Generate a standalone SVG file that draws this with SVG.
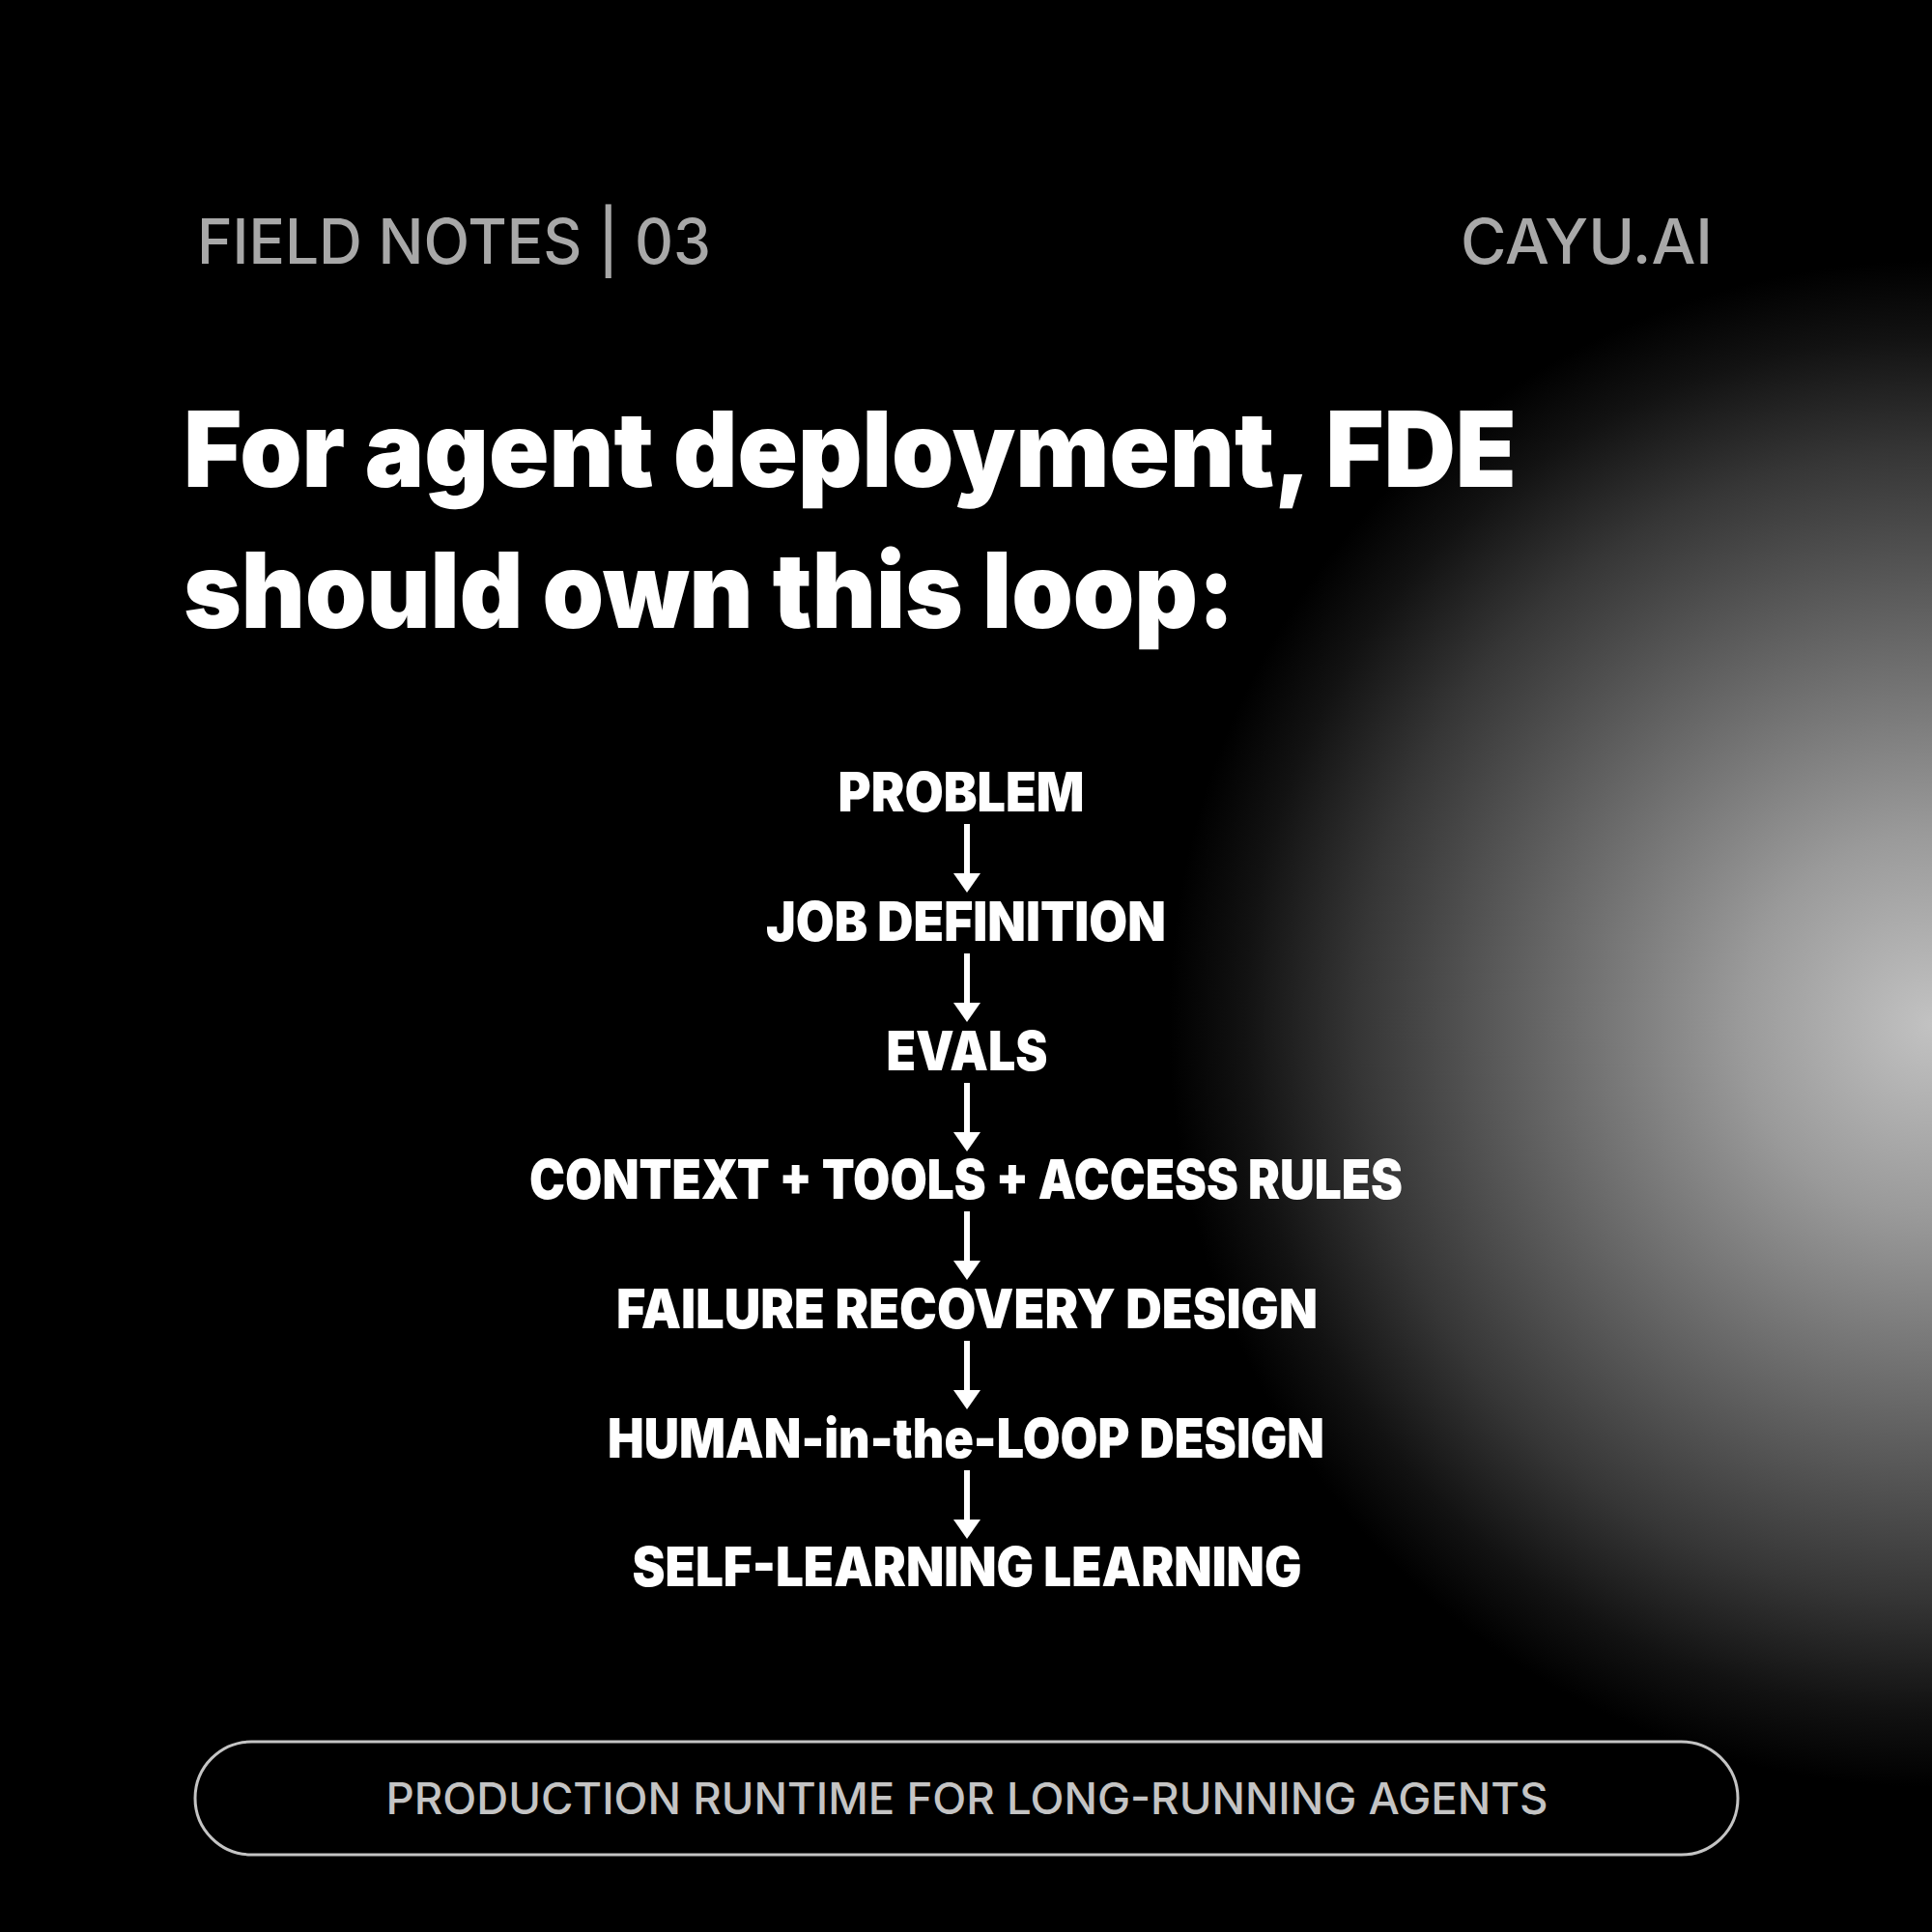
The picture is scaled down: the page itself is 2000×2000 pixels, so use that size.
<svg xmlns="http://www.w3.org/2000/svg" width="2000" height="2000" viewBox="0 0 2000 2000">
  <defs>
    <radialGradient id="glow" cx="2000" cy="1060" r="790" gradientUnits="userSpaceOnUse">
      <stop offset="0" stop-color="#c2c2c2"/>
      <stop offset="0.25" stop-color="#9a9a9a"/>
      <stop offset="0.5" stop-color="#686868"/>
      <stop offset="0.75" stop-color="#363636"/>
      <stop offset="0.9" stop-color="#121212"/>
      <stop offset="1" stop-color="#000000"/>
    </radialGradient>
    <marker id="arrowhead" markerUnits="userSpaceOnUse" markerWidth="20" markerHeight="28" refX="0" refY="14" orient="auto" viewBox="0 0 20 28">
      <path d="M0,0 L20,14 L0,28 Z" fill="#ffffff"/>
    </marker>
    <style>
      .hdr { font-family: "Inter", "Liberation Sans", sans-serif; font-weight: 500; font-size: 64px; fill: #a8a8a8; }
      .title { font-family: "Inter", "Liberation Sans", sans-serif; font-weight: 900; font-size: 108px; fill: #ffffff; }
      .step { font-family: "Inter", "Liberation Sans", sans-serif; font-weight: 900; font-size: 56px; fill: #ffffff; text-anchor: middle; }
      .conn { stroke: #ffffff; stroke-width: 6; fill: none; }
      .pilltxt { font-family: "Inter", "Liberation Sans", sans-serif; font-weight: 500; font-size: 45px; fill: #c4c4c4; text-anchor: middle; }
    </style>
  </defs>

  <rect x="0" y="0" width="2000" height="2000" fill="#000000"/>
  <rect x="0" y="0" width="2000" height="2000" fill="url(#glow)"/>

  <g id="header">
    <text class="hdr" x="204" y="273" textLength="532" lengthAdjust="spacingAndGlyphs">FIELD NOTES | 03</text>
    <text class="hdr" x="1512" y="273" textLength="261" lengthAdjust="spacingAndGlyphs">CAYU.AI</text>
  </g>

  <g id="title">
    <text class="title" x="190" y="504" textLength="1380" lengthAdjust="spacingAndGlyphs">For agent deployment, FDE</text>
    <text class="title" x="190" y="650" textLength="1088" lengthAdjust="spacingAndGlyphs">should own this loop:</text>
  </g>

  <g id="connectors">
    <line class="conn" x1="1001" y1="853" x2="1001" y2="904" marker-end="url(#arrowhead)"/>
    <line class="conn" x1="1001" y1="987" x2="1001" y2="1038" marker-end="url(#arrowhead)"/>
    <line class="conn" x1="1001" y1="1121" x2="1001" y2="1172" marker-end="url(#arrowhead)"/>
    <line class="conn" x1="1001" y1="1254" x2="1001" y2="1305" marker-end="url(#arrowhead)"/>
    <line class="conn" x1="1001" y1="1388" x2="1001" y2="1439" marker-end="url(#arrowhead)"/>
    <line class="conn" x1="1001" y1="1522" x2="1001" y2="1573" marker-end="url(#arrowhead)"/>
  </g>

  <g id="step-problem"><text class="step" x="995" y="840" textLength="255" lengthAdjust="spacingAndGlyphs">PROBLEM</text></g>
  <g id="step-job-definition"><text class="step" x="1000" y="974" textLength="414" lengthAdjust="spacingAndGlyphs">JOB DEFINITION</text></g>
  <g id="step-evals"><text class="step" x="1001" y="1108" textLength="167" lengthAdjust="spacingAndGlyphs">EVALS</text></g>
  <g id="step-context"><text class="step" x="1000" y="1241" textLength="904" lengthAdjust="spacingAndGlyphs">CONTEXT + TOOLS + ACCESS RULES</text></g>
  <g id="step-failure"><text class="step" x="1001" y="1375" textLength="726" lengthAdjust="spacingAndGlyphs">FAILURE RECOVERY DESIGN</text></g>
  <g id="step-human"><text class="step" x="1000" y="1509" textLength="742" lengthAdjust="spacingAndGlyphs">HUMAN-in-the-LOOP DESIGN</text></g>
  <g id="step-self-learning"><text class="step" x="1001" y="1642" textLength="693" lengthAdjust="spacingAndGlyphs">SELF-LEARNING LEARNING</text></g>

  <g id="footer-pill">
    <rect x="202" y="1803" width="1597" height="117" rx="58.5" ry="58.5" fill="#000000" stroke="#c4c4c4" stroke-width="3"/>
    <text class="pilltxt" x="1001" y="1878" textLength="1203" lengthAdjust="spacingAndGlyphs">PRODUCTION RUNTIME FOR LONG-RUNNING AGENTS</text>
  </g>
</svg>
